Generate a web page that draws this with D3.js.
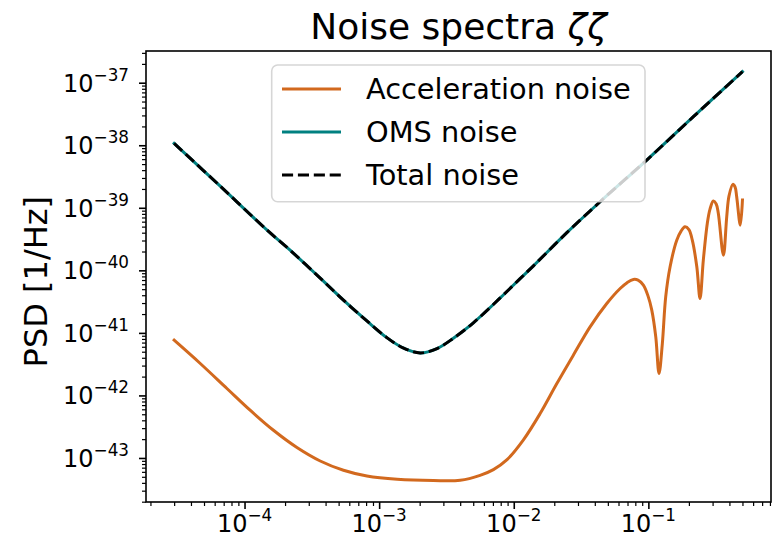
<!DOCTYPE html>
<html><head><meta charset="utf-8">
<script src="https://cdn.jsdelivr.net/npm/d3@7"></script>
<style>
body{margin:0;background:#fff}
svg{display:block}
text{font-family:"DejaVu Sans",sans-serif;fill:#000}
</style>
</head><body>
<svg id="chart" width="778" height="538"></svg>
<script>
// ---- data ----
const freqAcc = [3.0e-5, 4.69e-5, 7.40e-5, 1.10e-4, 1.64e-4, 2.45e-4, 3.65e-4, 5.43e-4, 8.11e-4, 1.36e-3,
  2.53e-3, 4.00e-3, 5.62e-3, 7.06e-3, 8.87e-3, 1.18e-2, 1.57e-2, 2.09e-2, 2.77e-2, 3.69e-2,
  4.91e-2, 6.17e-2, 6.95e-2, 7.74e-2, 8.38e-2, 9.18e-2, 9.95e-2, 0.106, 0.1135, 0.120,
  0.127, 0.1345, 0.145, 0.1625, 0.175, 0.187, 0.200, 0.212, 0.229, 0.242,
  0.256, 0.274, 0.287, 0.304, 0.319, 0.331, 0.361, 0.382, 0.397, 0.424,
  0.441, 0.453, 0.482, 0.5];
const accPsd = [7.64e-42, 3.24e-42, 1.29e-42, 5.80e-43, 2.77e-43, 1.47e-43, 8.95e-44, 6.36e-44, 5.15e-44, 4.56e-44,
  4.35e-44, 4.40e-44, 5.28e-44, 6.52e-44, 9.30e-44, 1.95e-43, 5.13e-43, 1.55e-42, 4.40e-42, 1.25e-41,
  2.95e-41, 5.13e-41, 6.36e-41, 7.15e-41, 6.97e-41, 5.80e-41, 3.87e-41, 2.31e-41, 8.63e-42, 2.24e-42,
  6.76e-42, 3.77e-41, 1.14e-40, 3.04e-40, 4.24e-40, 4.97e-40, 4.48e-40, 3.04e-40, 1.14e-40, 3.55e-41,
  1.46e-40, 5.62e-40, 9.53e-40, 1.28e-39, 1.15e-39, 8.13e-40, 1.75e-40, 7.18e-40, 1.54e-39, 2.37e-39,
  2.14e-39, 1.50e-39, 5.28e-40, 1.33e-39];
const freqOms = [3.0e-5, 6.60e-5, 1.47e-4, 2.18e-4, 3.65e-4, 5.43e-4, 8.11e-4, 1.14e-3, 1.52e-3, 2.02e-3,
  2.69e-3, 3.56e-3, 5.01e-3, 7.93e-3, 1.11e-2, 1.40e-2, 2.48e-2, 4.38e-2, 9.73e-2, 0.216, 0.5];
const omsPsd = [1.07e-38, 2.22e-39, 4.40e-40, 2.10e-40, 7.50e-41, 3.34e-41, 1.55e-41, 8.40e-42, 5.70e-42, 4.79e-42,
  5.62e-42, 8.20e-42, 1.45e-41, 3.62e-41, 7.30e-41, 1.18e-40, 4.00e-40, 1.25e-39, 5.80e-39, 2.86e-38, 1.50e-37];
const totalPsd = [1.07e-38, 2.22e-39, 4.40e-40, 2.10e-40, 7.50e-41, 3.34e-41, 1.55e-41, 8.40e-42, 5.70e-42, 4.79e-42,
  5.62e-42, 8.20e-42, 1.45e-41, 3.62e-41, 7.30e-41, 1.18e-40, 4.00e-40, 1.25e-39, 5.80e-39, 2.86e-38, 1.50e-37];
const seriesNames = ["Acceleration noise", "OMS noise", "Total noise"];
const seriesColors = ["#d2691e", "#008080", "#000000"];
const xTickExps = [-4, -3, -2, -1];
const yTickExps = [-43, -42, -41, -40, -39, -38, -37];
const titleText = "Noise spectra ";
const titleSymbol = "ζζ";
const yLabelText = "PSD [1/Hz]";

// ---- layout ----
const L = 146, R = 771, T = 51, B = 502;
const svg = d3.select("#chart");

const x = d3.scaleLog().domain([Math.pow(10, -4.732), Math.pow(10, -0.089)]).range([L, R]);
const y = d3.scaleLog().domain([Math.pow(10, -43.704), Math.pow(10, -36.493)]).range([B, T]);

function minorTicks(scale, kFrom, kTo) {
  const [d0, d1] = scale.domain();
  const out = [];
  for (let k = kFrom; k <= kTo; k++) for (let m = 2; m <= 9; m++) {
    const v = m * Math.pow(10, k);
    if (v >= d0 && v <= d1) out.push(v);
  }
  return out;
}

// axes (ticks through d3 axes)
const xMajor = xTickExps.map(e => Math.pow(10, e));
const yMajor = yTickExps.map(e => Math.pow(10, e));
function styleAxis(g, w) {
  g.select(".domain").remove();
  g.selectAll("line").attr("stroke", "#000").attr("stroke-width", w);
  g.selectAll("text").remove();
}
svg.append("g").attr("transform", `translate(0,${B})`)
  .call(d3.axisBottom(x).tickValues(minorTicks(x, -5, -1)).tickSize(4).tickFormat(() => ""))
  .call(g => styleAxis(g, 1.2));
svg.append("g").attr("transform", `translate(0,${B})`)
  .call(d3.axisBottom(x).tickValues(xMajor).tickSize(7).tickFormat(() => ""))
  .call(g => styleAxis(g, 1.6));
svg.append("g").attr("transform", `translate(${L},0)`)
  .call(d3.axisLeft(y).tickValues(minorTicks(y, -44, -37)).tickSize(4).tickFormat(() => ""))
  .call(g => styleAxis(g, 1.2));
svg.append("g").attr("transform", `translate(${L},0)`)
  .call(d3.axisLeft(y).tickValues(yMajor).tickSize(7).tickFormat(() => ""))
  .call(g => styleAxis(g, 1.6));

// tick labels
function powLabel(sel, e) {
  sel.append("tspan").text("10");
  sel.append("tspan").attr("font-size", 16.8).attr("dy", -11).text("\u2212" + Math.abs(e));
}
svg.append("g").selectAll("text").data(xTickExps).join("text")
  .attr("x", e => x(Math.pow(10, e))).attr("y", 532)
  .attr("text-anchor", "middle").attr("font-size", 24)
  .each(function(e) { powLabel(d3.select(this), e); });
svg.append("g").selectAll("text").data(yTickExps).join("text")
  .attr("x", 129).attr("y", e => y(Math.pow(10, e)) + 9)
  .attr("text-anchor", "end").attr("font-size", 24)
  .each(function(e) { powLabel(d3.select(this), e); });

// lines
const smooth = d3.line().x(d => x(d[0])).y(d => y(d[1])).curve(d3.curveCatmullRom.alpha(0.5));
const plot = svg.append("g");
plot.append("path").datum(d3.zip(freqAcc, accPsd)).attr("d", smooth)
  .attr("fill", "none").attr("stroke", seriesColors[0]).attr("stroke-width", 3)
  .attr("stroke-linejoin", "round").attr("stroke-linecap", "square");
plot.append("path").datum(d3.zip(freqOms, omsPsd)).attr("d", smooth)
  .attr("fill", "none").attr("stroke", seriesColors[1]).attr("stroke-width", 3)
  .attr("stroke-linecap", "square");
plot.append("path").datum(d3.zip(freqOms, totalPsd)).attr("d", smooth)
  .attr("fill", "none").attr("stroke", seriesColors[2]).attr("stroke-width", 3)
  .attr("stroke-dasharray", "11.1,4.8");

// frame
svg.append("rect").attr("x", L).attr("y", T).attr("width", R - L).attr("height", B - T)
  .attr("fill", "none").attr("stroke", "#000").attr("stroke-width", 1.6);

// legend
const lg = svg.append("g");
lg.append("rect").attr("x", 271.7).attr("y", 65).attr("width", 373.3).attr("height", 136.7)
  .attr("rx", 6).attr("fill", "#fff").attr("fill-opacity", 0.8)
  .attr("stroke", "#cccccc").attr("stroke-opacity", 0.8).attr("stroke-width", 1.6);
const rows = [89, 132, 175];
seriesNames.forEach((n, i) => {
  const ln = lg.append("line").attr("x1", 282).attr("x2", 341).attr("y1", rows[i]).attr("y2", rows[i])
    .attr("stroke", seriesColors[i]).attr("stroke-width", 3);
  if (i === 2) ln.attr("stroke-dasharray", "11.1,4.8");
  lg.append("text").attr("x", 366).attr("y", rows[i] + 10.3).attr("font-size", 28.8).text(n);
});

// title & axis label
const t = svg.append("text").attr("x", (L + R) / 2).attr("y", 39).attr("text-anchor", "middle").attr("font-size", 36);
t.append("tspan").text(titleText);
t.append("tspan").attr("font-style", "italic").text(titleSymbol);
svg.append("text").attr("transform", "translate(46.7,281.7) rotate(-90)")
  .attr("text-anchor", "middle").attr("font-size", 32).text(yLabelText);
</script>
</body></html>
